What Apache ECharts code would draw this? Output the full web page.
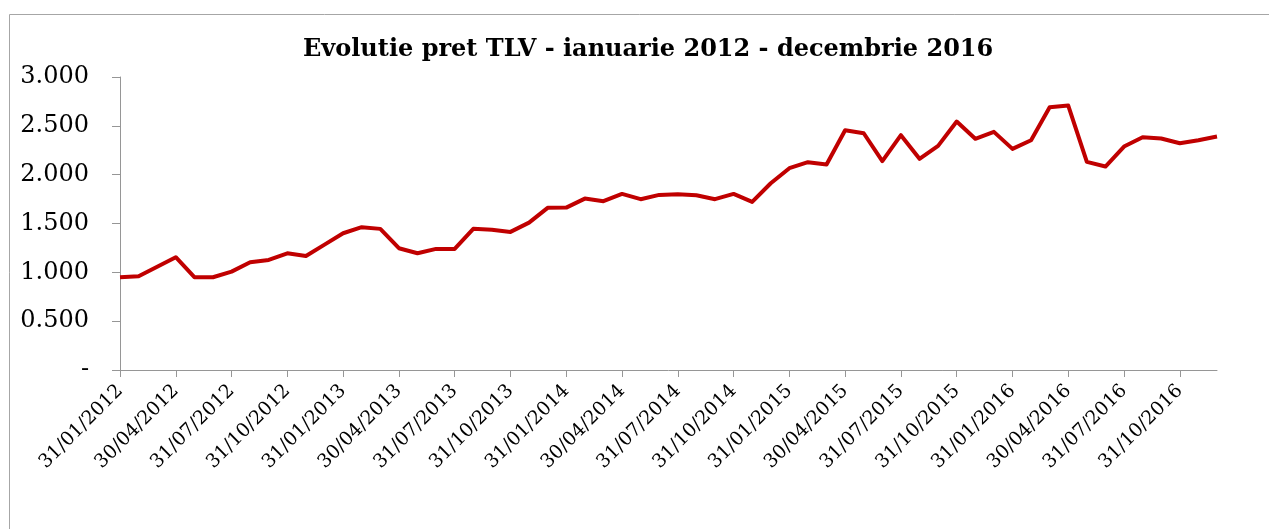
<!DOCTYPE html>
<html>
<head>
<meta charset="utf-8">
<title>Evolutie pret TLV</title>
<script src="https://cdn.jsdelivr.net/npm/echarts@6/dist/echarts.min.js"></script>
<style>
    html, body {
        margin: 0;
        padding: 0;
        background: #fff;
    }

    #chart {
        width: 1269px;
        height: 529px;
    }
</style>
</head>
<body>
<div id="chart"></div>
<script>
// date lunare (sfarsit de luna)
const dates = [
    '31/01/2012', '29/02/2012', '31/03/2012', '30/04/2012', '31/05/2012', '30/06/2012',
    '31/07/2012', '31/08/2012', '30/09/2012', '31/10/2012', '30/11/2012', '31/12/2012',
    '31/01/2013', '28/02/2013', '31/03/2013', '30/04/2013', '31/05/2013', '30/06/2013',
    '31/07/2013', '31/08/2013', '30/09/2013', '31/10/2013', '30/11/2013', '31/12/2013',
    '31/01/2014', '28/02/2014', '31/03/2014', '30/04/2014', '31/05/2014', '30/06/2014',
    '31/07/2014', '31/08/2014', '30/09/2014', '31/10/2014', '30/11/2014', '31/12/2014',
    '31/01/2015', '28/02/2015', '31/03/2015', '30/04/2015', '31/05/2015', '30/06/2015',
    '31/07/2015', '31/08/2015', '30/09/2015', '31/10/2015', '30/11/2015', '31/12/2015',
    '31/01/2016', '29/02/2016', '31/03/2016', '30/04/2016', '31/05/2016', '30/06/2016',
    '31/07/2016', '31/08/2016', '30/09/2016', '31/10/2016', '30/11/2016', '31/12/2016'
]

// pret TLV
const pretTLV = [
    950, 960, 1058, 1155, 950, 950, 1007, 1103, 1127, 1195, 1168, 1284,
    1400, 1462, 1445, 1247, 1195, 1240, 1240, 1445, 1437, 1414, 1509, 1660,
    1663, 1755, 1728, 1803, 1749, 1793, 1800, 1790, 1749, 1803, 1721, 1912,
    2066, 2128, 2104, 2455, 2424, 2138, 2404, 2162, 2295, 2544, 2367, 2438,
    2264, 2353, 2691, 2708, 2131, 2083, 2288, 2384, 2370, 2322, 2353, 2390
]

// etichete axa Y
const yTicks = [0, 500, 1000, 1500, 2000, 2500, 3000]
const yTickLabels = ['-', '0.500', '1.000', '1.500', '2.000', '2.500', '3.000']

const titleText = 'Evolutie pret TLV - ianuarie 2012 - decembrie 2016'
const serif = '"DejaVu Serif", serif'

let myChart = echarts.init(document.getElementById('chart'));
let option = {
    backgroundColor: '#fff',
    animation: false,
    title: {
        text: titleText,
        left: 298,
        top: 33,
        textStyle: {
            fontFamily: serif,
            fontWeight: 'bold',
            fontSize: 24,
            color: '#000'
        }
    },
    graphic: [
        {
            // chenarul graficului
            type: 'rect',
            shape: { x: 9.5, y: 14.5, width: 1300, height: 600 },
            style: { fill: 'none', stroke: '#a6a6a6', lineWidth: 1 },
            silent: true
        }
    ],
    grid: {
        left: 120,
        right: 52,
        top: 77,
        bottom: 159
    },
    xAxis: {
        type: 'category',
        boundaryGap: false,
        data: dates,
        axisLine: {
            show: true,
            lineStyle: { color: '#969696', width: 1 }
        },
        axisTick: {
            show: true,
            interval: 2,
            length: 7,
            lineStyle: { color: '#969696' }
        },
        axisLabel: {
            interval: 2,
            rotate: 45,
            margin: 18,
            fontFamily: serif,
            fontSize: 19,
            color: '#000'
        },
        splitLine: { show: false }
    },
    yAxis: {
        type: 'value',
        min: 0,
        max: 3000,
        interval: 500,
        axisLine: {
            show: true,
            lineStyle: { color: '#969696', width: 1 }
        },
        axisTick: {
            show: true,
            length: 8,
            lineStyle: { color: '#969696' }
        },
        axisLabel: {
            margin: 31,
            fontFamily: serif,
            fontSize: 24,
            color: '#000',
            formatter: (v) => yTickLabels[yTicks.indexOf(v)]
        },
        splitLine: { show: false }
    },
    series: [
        {
            name: 'TLV',
            type: 'line',
            data: pretTLV,
            showSymbol: false,
            symbol: 'none',
            lineStyle: {
                color: '#c00000',
                width: 4,
                join: 'round'
            },
            itemStyle: { color: '#c00000' }
        }
    ]
}

myChart.setOption(option, true);
window.addEventListener('resize', () => {
    myChart.resize();
})
</script>
</body>
</html>
